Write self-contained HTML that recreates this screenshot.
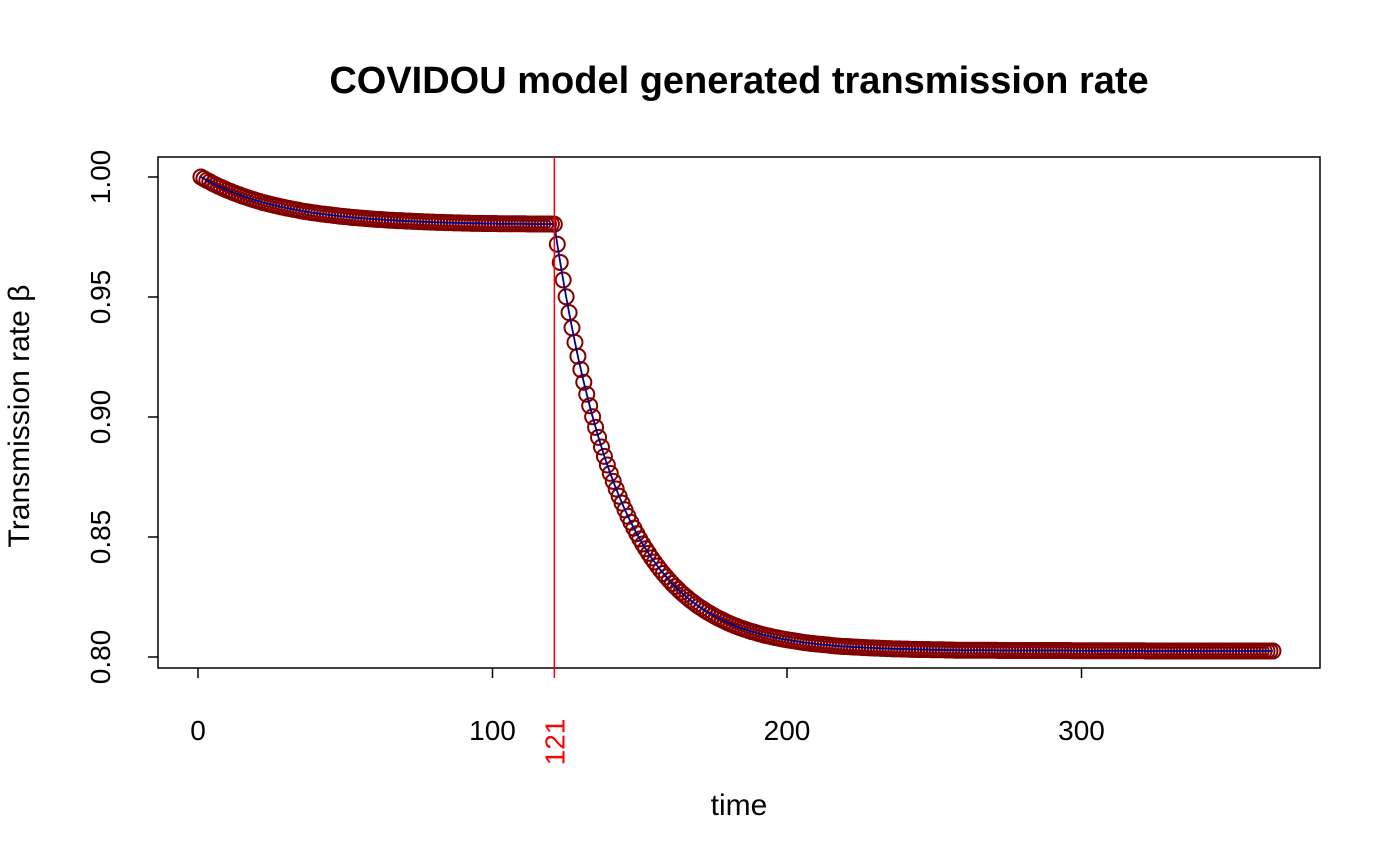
<!DOCTYPE html>
<html><head><meta charset="utf-8">
<style>
html,body{margin:0;padding:0;background:#fff;}
svg{display:block;font-family:"Liberation Sans",Arial,sans-serif;}
</style></head>
<body>
<svg id="chart" width="1400" height="865" viewBox="0 0 1400 865">
<text x="739" y="93" text-anchor="middle" font-size="38" font-weight="bold">COVIDOU model generated transmission rate</text>
<rect x="158" y="157" width="1162" height="511" fill="none" stroke="#000" stroke-width="1.5"/>
<g id="xaxis"></g>
<g id="yaxis"></g>
<g id="points"></g>
<path id="line" fill="none" stroke="#00008B" stroke-width="1.8"/>
<g id="vline"></g>
<text x="739" y="815" text-anchor="middle" font-size="30">time</text>
<text transform="translate(29,416) rotate(-90)" text-anchor="middle" font-size="30">Transmission rate β</text>
</svg>
<script>
const xTicks = [0, 100, 200, 300];
const yTicks = [0.80, 0.85, 0.90, 0.95, 1.00];
const yTickLabels = ["0.80", "0.85", "0.90", "0.95", "1.00"];
const interventionDay = 121;
const betaPhase1 = [
1.0000,.9993,.9986,.9980,.9973,.9967,.9961,.9956,.9950,.9945,
.9940,.9935,.9930,.9926,.9921,.9917,.9913,.9909,.9905,.9901,
.9898,.9894,.9891,.9888,.9885,.9882,.9879,.9876,.9874,.9871,
.9869,.9866,.9864,.9862,.9859,.9857,.9855,.9853,.9851,.9850,
.9848,.9846,.9845,.9843,.9842,.9840,.9839,.9837,.9836,.9835,
.9834,.9832,.9831,.9830,.9829,.9828,.9827,.9826,.9825,.9824,
.9823,.9823,.9822,.9821,.9820,.9820,.9819,.9818,.9818,.9817,
.9816,.9816,.9815,.9815,.9814,.9814,.9813,.9813,.9812,.9812,
.9811,.9811,.9811,.9810,.9810,.9810,.9809,.9809,.9809,.9808,
.9808,.9808,.9807,.9807,.9807,.9807,.9806,.9806,.9806,.9806,
.9806,.9805,.9805,.9805,.9805,.9805,.9805,.9805,.9805,.9805,
.9805,.9804,.9804,.9804,.9804,.9804,.9804,.9804,.9804,.9804,
.9803];
const betaPhase2 = [
.9720,.9644,.9571,.9501,.9435,.9372,.9311,.9253,.9198,.9145,
.9095,.9047,.9001,.8957,.8915,.8875,.8836,.8800,.8765,.8732,
.8700,.8670,.8641,.8613,.8586,.8561,.8537,.8514,.8492,.8471,
.8451,.8432,.8413,.8396,.8379,.8363,.8348,.8334,.8320,.8306,
.8294,.8282,.8270,.8259,.8249,.8238,.8229,.8220,.8211,.8203,
.8195,.8187,.8180,.8173,.8166,.8160,.8154,.8148,.8142,.8137,
.8132,.8127,.8122,.8118,.8114,.8110,.8106,.8103,.8099,.8096,
.8092,.8089,.8087,.8084,.8081,.8079,.8076,.8074,.8072,.8070,
.8068,.8066,.8064,.8062,.8060,.8059,.8057,.8056,.8054,.8053,
.8052,.8051,.8050,.8048,.8047,.8046,.8045,.8044,.8044,.8043,
.8042,.8041,.8041,.8040,.8039,.8039,.8038,.8038,.8037,.8037,
.8036,.8036,.8035,.8035,.8034,.8034,.8034,.8033,.8033,.8033,
.8032,.8032,.8032,.8031,.8031,.8031,.8031,.8030,.8030,.8030,
.8030,.8030,.8029,.8029,.8029,.8028,.8028,.8028,.8028,.8028,
.8028,.8028,.8028,.8028,.8028,.8028,.8028,.8028,.8028,.8028,
.8027,.8027,.8027,.8027,.8027,.8027,.8027,.8027,.8027,.8027,
.8027,.8027,.8027,.8027,.8027,.8027,.8027,.8027,.8027,.8027,
.8027,.8027,.8027,.8027,.8027,.8026,.8026,.8026,.8026,.8026,
.8026,.8026,.8026,.8026,.8026,.8026,.8026,.8026,.8026,.8026,
.8026,.8026,.8026,.8026,.8026,.8026,.8026,.8026,.8026,.8026,
.8025,.8025,.8025,.8025,.8025,.8025,.8025,.8025,.8025,.8025,
.8025,.8025,.8025,.8025,.8025,.8025,.8025,.8025,.8025,.8025,
.8025,.8025,.8025,.8025,.8025,.8025,.8025,.8025,.8025,.8025,
.8025,.8025,.8025,.8025,.8025,.8025,.8025,.8025,.8025,.8025,
.8025,.8025,.8025,.8025];
const beta = betaPhase1.concat(betaPhase2);

const NS = "http://www.w3.org/2000/svg";
const xScale = t => 198 + t * 2.945;
const yScale = v => 657 - (v - 0.80) * 2400;
function mk(tag, attrs, parent) {
  const e = document.createElementNS(NS, tag);
  for (const k in attrs) e.setAttribute(k, attrs[k]);
  parent.appendChild(e);
  return e;
}
const xg = document.getElementById('xaxis');
xTicks.forEach(t => {
  const l = mk('line', {x1: xScale(t), x2: xScale(t), y1: 668, y2: 678, stroke: '#000', 'stroke-width': 1.5}, xg);
  
  
  const tx = mk('text', {x: xScale(t), y: 740, 'text-anchor': 'middle', 'font-size': 28}, xg);
  tx.textContent = t;
  
  
});
const yg = document.getElementById('yaxis');
yTicks.forEach((v, i) => {
  const l = mk('line', {x1: 148, x2: 158, y1: yScale(v), y2: yScale(v), stroke: '#000', 'stroke-width': 1.5}, yg);
  
  
  const tx = mk('text', {transform: `translate(110,${yScale(v)}) rotate(-90)`, 'text-anchor': 'middle', 'font-size': 28}, yg);
  tx.textContent = yTickLabels[i];
  
  
});
const pg = document.getElementById('points');
let d = '';
beta.forEach((v, i) => {
  const t = i + 1;
  const c = mk('circle', {cx: xScale(t), cy: yScale(v), r: 7.5, fill: 'none', stroke: '#800000', 'stroke-width': 2}, pg);
  
  
  d += (i ? 'L' : 'M') + xScale(t).toFixed(2) + ',' + yScale(v).toFixed(2);
});
document.getElementById('line').setAttribute('d', d);
const vg = document.getElementById('vline');
const vx = xScale(interventionDay);
const vl = mk('line', {x1: vx, x2: vx, y1: 157, y2: 678, stroke: '#FF0000', 'stroke-width': 1.5}, vg);


const vt = mk('text', {transform: `translate(${vx + 10},742) rotate(-90)`, 'text-anchor': 'middle', 'font-size': 28, fill: '#FF0000'}, vg);
vt.textContent = interventionDay;


</script>
</body></html>
